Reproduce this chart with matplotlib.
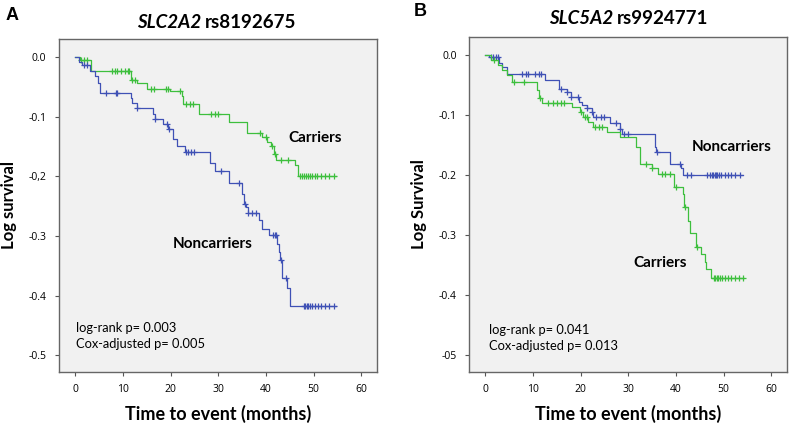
import numpy as np
import matplotlib.pyplot as plt

plt.rcParams['font.family'] = ['Lato', 'DejaVu Sans']

green = '#3dbf3d'
blue = '#3f51b5'

# -----------------------------
# Panel A data (SLC2A2 rs8192675)
# -----------------------------
a_car_t = [0, 1.0, 3.3, 11.6, 13.0, 15.0, 19.9, 22.3, 22.7, 25.9, 32.2, 36.0,
           39.2, 40.3, 41.0, 41.8, 42.2, 46.1, 46.8, 54.7]
a_car_v = [0, -0.006, -0.023, -0.038, -0.043, -0.0535, -0.0565, -0.065, -0.0785,
           -0.0955, -0.109, -0.127, -0.134, -0.142, -0.150, -0.162, -0.172,
           -0.181, -0.200, -0.200]
a_car_cens = [1.2, 1.8, 2.4, 7.8, 8.3, 8.8, 9.5, 10.5, 11.0, 11.3, 12.0, 12.6,
              15.8, 16.6, 19.0, 19.5, 22.0, 23.2, 24.0, 24.8, 28.5, 29.3, 30.0,
              38.8, 40.0, 41.3, 41.9, 43.2, 44.6, 47.2, 47.6, 48.0, 48.4, 48.8,
              49.2, 49.6, 50.2, 50.8, 51.6, 52.4, 53.2, 54.2]

a_non_t = [0, 0.7, 1.4, 3.0, 4.2, 4.7, 5.3, 11.6, 11.9, 13.0, 16.3, 16.7, 18.5,
           19.5, 20.6, 21.3, 23.1, 28.3, 29.3, 32.2, 34.9, 35.5, 35.8, 36.2,
           38.5, 39.2, 40.6, 42.4, 42.7, 43.0, 43.3, 44.4, 45.1, 54.7]
a_non_v = [0, -0.008, -0.014, -0.023, -0.032, -0.044, -0.061, -0.069, -0.078,
           -0.086, -0.095, -0.104, -0.112, -0.120, -0.137, -0.150, -0.160,
           -0.178, -0.192, -0.212, -0.229, -0.246, -0.252, -0.261, -0.274,
           -0.288, -0.299, -0.313, -0.327, -0.341, -0.370, -0.387, -0.417,
           -0.417]
a_non_cens = [1.8, 2.4, 6.5, 8.5, 8.8, 13.0, 16.8, 19.3, 19.6, 23.2, 23.6, 24.3,
              25.0, 30.5, 34.4, 35.7, 36.3, 37.0, 38.0, 41.5, 41.9, 42.2, 43.2,
              44.2, 48.0, 48.3, 48.6, 48.9, 49.2, 49.6, 50.2, 51.0, 51.6, 52.4,
              53.2, 54.2]

# -----------------------------
# Panel B data (SLC5A2 rs9924771)
# -----------------------------
b_non_t = [0, 0.8, 2.9, 3.6, 4.6, 12.6, 15.4, 17.1, 17.9, 19.6, 20.3, 21.3,
           22.4, 22.7, 26.2, 28.3, 28.6, 35.6, 35.9, 38.7, 41.1, 41.5, 54.0]
b_non_v = [0, -0.004, -0.014, -0.020, -0.032, -0.042, -0.057, -0.061, -0.070,
           -0.078, -0.083, -0.088, -0.095, -0.104, -0.114, -0.123, -0.131,
           -0.153, -0.162, -0.181, -0.189, -0.200, -0.200]
b_non_cens = [1.2, 1.6, 2.2, 2.6, 7.8, 8.5, 9.0, 10.5, 11.2, 11.8, 15.8, 17.2,
              18.0, 19.5, 21.3, 22.5, 23.2, 24.2, 25.0, 27.5, 28.3, 29.2, 30.0,
              36.0, 40.8, 42.3, 43.2, 46.5, 47.2, 47.5, 47.8, 48.1, 48.4, 48.7,
              49.0, 49.5, 50.2, 51.0, 51.6, 52.4, 53.5]

b_car_t = [0, 1.2, 2.6, 3.6, 4.6, 5.7, 10.9, 11.3, 12.0, 18.2, 19.9, 20.6, 21.6,
           22.7, 25.5, 28.3, 31.7, 32.4, 34.9, 36.3, 39.7, 41.4, 41.8, 42.5,
           43.0, 44.2, 45.3, 46.0, 46.3, 47.3, 54.3]
b_car_v = [0, -0.008, -0.017, -0.025, -0.033, -0.045, -0.058, -0.072, -0.080,
           -0.086, -0.095, -0.103, -0.111, -0.120, -0.128, -0.136, -0.153,
           -0.181, -0.189, -0.199, -0.220, -0.231, -0.253, -0.276, -0.297,
           -0.320, -0.332, -0.344, -0.357, -0.371, -0.371]
b_car_cens = [1.8, 6.0, 8.2, 11.5, 13.2, 14.2, 15.0, 15.8, 16.6, 20.0, 20.9,
              21.4, 23.0, 23.8, 24.5, 33.8, 35.0, 37.0, 37.8, 38.8, 40.0, 41.9,
              44.5, 48.0, 48.3, 48.6, 48.9, 49.2, 49.6, 50.2, 51.0, 51.6, 52.4,
              53.2, 54.0]


def step_value(times, values, t):
    idx = np.searchsorted(times, t, side='right') - 1
    return np.array(values)[idx]


def km_panel(ax, curves, ticklabels, ylabel, labels, ptext):
    ax.set_facecolor('#f1f1f1')
    for times, values, cens, color in curves:
        ax.step(times, values, where='post', color=color, lw=0.9)
        ax.plot(cens, step_value(times, values, cens), ls='none', marker='+',
                ms=5, mew=0.9, color=color)
    ax.set_xlim(-3.4, 63.3)
    ax.set_ylim(-0.528, 0.03)
    ax.set_xticks([0, 10, 20, 30, 40, 50, 60])
    ax.set_yticks([0.0, -0.1, -0.2, -0.3, -0.4, -0.5])
    ax.set_yticklabels(ticklabels)
    ax.tick_params(labelsize=7.5, length=3, color='#555555', pad=6)
    for lab in ax.get_xticklabels() + ax.get_yticklabels():
        lab.set_family(['Open Sans', 'DejaVu Sans'])
    for side in ['top', 'right', 'left', 'bottom']:
        ax.spines[side].set_color('#666666')
        ax.spines[side].set_linewidth(1.0)
    ax.set_xlabel('Time to event (months)', fontsize=13, fontweight='bold',
                  labelpad=7)
    ax.set_ylabel(ylabel, fontsize=12, fontweight='bold', labelpad=8)
    for txt, x, y in labels:
        ax.text(x, y, txt, fontsize=11, fontweight='bold', ha='center',
                va='center')
    ax.text(ptext[0], ptext[1], ptext[2], fontsize=9.3, va='center',
            linespacing=1.45)


def title(fig, xc, yc, gene, snp):
    # gene name bold italic, SNP id bold
    fig.text(xc / 790, 1 - yc / 425, gene + ' ', fontsize=13.5,
             fontweight='bold', style='italic', ha='right', va='center')
    fig.text(xc / 790, 1 - yc / 425, snp, fontsize=13.5, fontweight='bold',
             ha='left', va='center')


fig = plt.figure(figsize=(7.9, 4.25), dpi=100)
axA = fig.add_axes([59 / 790, 1 - 372 / 425, 318 / 790, 333 / 425])
axB = fig.add_axes([469 / 790, 1 - 372 / 425, 318 / 790, 335 / 425])

km_panel(axA,
         [(a_car_t, a_car_v, a_car_cens, green),
          (a_non_t, a_non_v, a_non_cens, blue)],
         ['0.0', '-0.1', '-0,2', '-0.3', '-0.4', '-0.5'],
         'Log survival',
         [('Carriers', 50.3, -0.136), ('Noncarriers', 28.8, -0.314)],
         (0.2, -0.468, 'log-rank p= 0.003\nCox-adjusted p= 0.005'))

km_panel(axB,
         [(b_non_t, b_non_v, b_non_cens, blue),
          (b_car_t, b_car_v, b_car_cens, green)],
         ['0.0', '-0.1', '-0.2', '-0.3', '-0.4', '-05'],
         'Log Survival',
         [('Noncarriers', 51.8, -0.153), ('Carriers', 36.6, -0.347)],
         (0.8, -0.471, 'log-rank p= 0.041\nCox-adjusted p= 0.013'))

title(fig, 205, 23, 'SLC2A2', 'rs8192675')
title(fig, 617, 18, 'SLC5A2', 'rs9924771')

fig.text(12 / 790, 1 - 15 / 425, 'A', fontsize=13, fontweight='bold',
         ha='center', va='center', family=['Liberation Sans', 'DejaVu Sans'])
fig.text(420 / 790, 1 - 12 / 425, 'B', fontsize=13, fontweight='bold',
         ha='center', va='center', family=['Liberation Sans', 'DejaVu Sans'])

fig.savefig('out.png', dpi=100)
